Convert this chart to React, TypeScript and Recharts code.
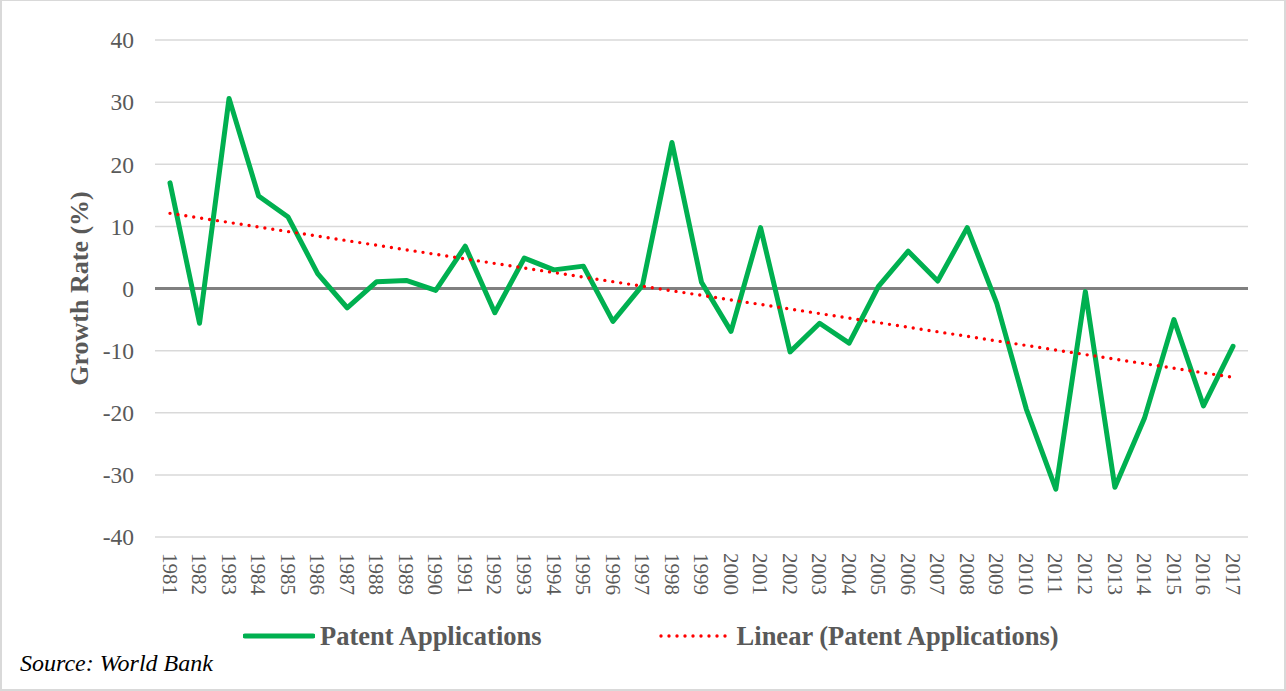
import React from "react";
import {
  LineChart,
  Line,
  XAxis,
  YAxis,
  CartesianGrid,
  ReferenceLine,
  Legend,
} from "recharts";

// years on the category axis
const years = [
  "1981", "1982", "1983", "1984", "1985", "1986", "1987", "1988", "1989", "1990",
  "1991", "1992", "1993", "1994", "1995", "1996", "1997", "1998", "1999", "2000",
  "2001", "2002", "2003", "2004", "2005", "2006", "2007", "2008", "2009", "2010",
  "2011", "2012", "2013", "2014", "2015", "2016", "2017",
];

// growth rate of patent applications (%)
const patentGrowth = [
  17.0, -5.6, 30.6, 14.9, 11.5, 2.4, -3.1, 1.1, 1.3, -0.3,
  6.8, -3.9, 4.9, 3.0, 3.6, -5.3, 0.5, 23.5, 1.0, -6.9,
  9.8, -10.2, -5.6, -8.8, 0.4, 6.0, 1.2, 9.8, -2.4, -19.4,
  -32.3, -0.5, -32.0, -20.9, -5.0, -18.9, -9.3,
];

// linear trend, first and last year
const trendEnds = [12.1, -14.3];

const yTicks = [-40, -30, -20, -10, 0, 10, 20, 30, 40];

const data = years.map((year, i) => ({
  year,
  growth: patentGrowth[i],
  trend: i === 0 ? trendEnds[0] : i === years.length - 1 ? trendEnds[1] : null,
}));

const GREEN = "#00B050";
const RED = "#FF0000";
const TEXT = "#595959";
const SERIF = "Liberation Serif, Tinos, Times New Roman, Times, DejaVu Serif, serif";

const YearTick = (props: any) => {
  const { x, y, payload } = props;
  return (
    <text
      x={x}
      y={y}
      dy="0.35em"
      transform={`rotate(90, ${x}, ${y})`}
      textAnchor="start"
      fill={TEXT}
      fontSize={21}
      style={{ fontFamily: SERIF }}
    >
      {payload.value}
    </text>
  );
};

const LegendBox = () => (
  <div
    style={{
      display: "flex",
      alignItems: "center",
      height: 34,
      paddingLeft: 243,
      fontFamily: SERIF,
      fontWeight: "bold",
      fontSize: 26.5,
      color: TEXT,
      whiteSpace: "nowrap",
    }}
  >
    <svg width={72} height={10} style={{ marginRight: 5 }}>
      <line x1={2} y1={5} x2={70} y2={5} stroke={GREEN} strokeWidth={5} strokeLinecap="round" />
    </svg>
    <span>Patent Applications</span>
    <svg width={70} height={10} style={{ marginLeft: 117, marginRight: 8 }}>
      <line
        x1={2}
        y1={5}
        x2={69}
        y2={5}
        stroke={RED}
        strokeWidth={3.4}
        strokeDasharray="0 8"
        strokeLinecap="round"
      />
    </svg>
    <span>Linear (Patent Applications)</span>
  </div>
);

export default function App() {
  return (
    <div
      style={{
        position: "absolute",
        left: 0,
        top: 0,
        width: 1286,
        height: 691,
        background: "#fff",
        fontFamily: SERIF,
      }}
    >
      <LineChart
        width={1286}
        height={691}
        data={data}
        margin={{ top: 40, right: 38, left: 60, bottom: 38 }}
        style={{ fontFamily: SERIF }}
      >
        <CartesianGrid vertical={false} stroke="#D9D9D9" strokeWidth={1.5} />
        <XAxis
          dataKey="year"
          interval={0}
          padding={{ left: 15, right: 15 }}
          tickLine={false}
          axisLine={false}
          tickSize={0}
          tickMargin={16}
          height={82}
          tick={<YearTick />}
        />
        <YAxis
          domain={[-40, 40]}
          ticks={yTicks}
          width={95}
          tickLine={false}
          axisLine={false}
          tickSize={0}
          tickMargin={21}
          tick={{ fill: TEXT, fontSize: 23.5, style: { fontFamily: SERIF } }}
          label={{
            value: "Growth Rate (%)",
            angle: -90,
            position: "insideLeft",
            offset: 19,
            style: {
              textAnchor: "middle",
              fill: TEXT,
              fontSize: 26,
              fontWeight: "bold",
              fontFamily: SERIF,
            },
          }}
        />
        <ReferenceLine y={0} stroke="#808080" strokeWidth={3} />
        <Legend
          verticalAlign="bottom"
          height={34}
          wrapperStyle={{ left: 0, width: 1286 }}
          content={<LegendBox />}
        />
        <Line
          type="linear"
          dataKey="growth"
          name="Patent Applications"
          stroke={GREEN}
          strokeWidth={5}
          strokeLinejoin="round"
          strokeLinecap="round"
          dot={false}
          isAnimationActive={false}
        />
        <Line
          type="linear"
          dataKey="trend"
          name="Linear (Patent Applications)"
          stroke={RED}
          strokeWidth={3.4}
          strokeDasharray="0 8"
          strokeLinecap="round"
          connectNulls
          dot={false}
          isAnimationActive={false}
        />
      </LineChart>
      <div
        style={{
          position: "absolute",
          left: 20,
          top: 649,
          fontFamily: SERIF,
          fontStyle: "italic",
          fontSize: 24,
          lineHeight: "28px",
          color: "#000",
        }}
      >
        Source: World Bank
      </div>
      <div
        style={{
          position: "absolute",
          left: 0,
          top: 0,
          width: 1286,
          height: 691,
          boxSizing: "border-box",
          borderTop: "1px solid #D9D9D9",
          borderBottom: "2px solid #D9D9D9",
          borderLeft: "2px solid #D9D9D9",
          borderRight: "2px solid #D9D9D9",
          pointerEvents: "none",
        }}
      />
    </div>
  );
}
